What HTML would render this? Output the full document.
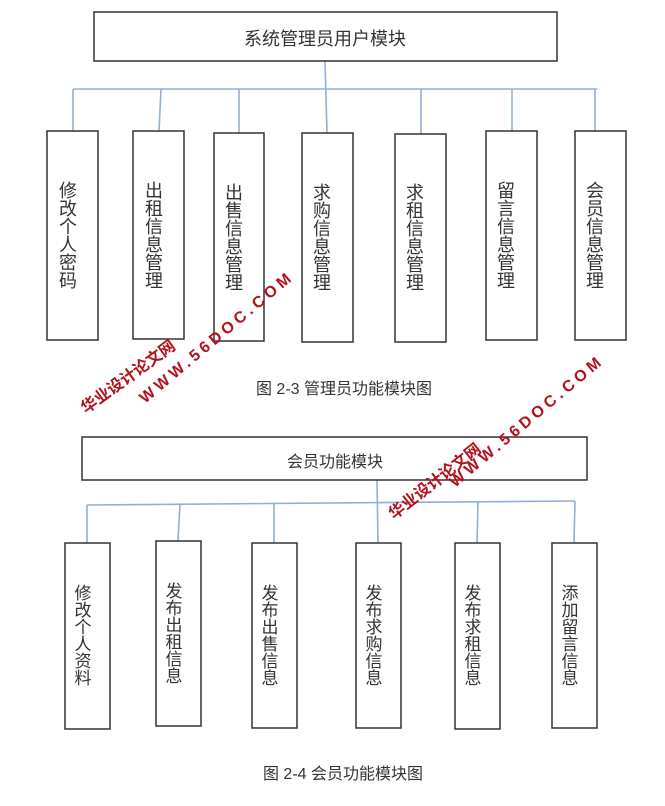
<!DOCTYPE html>
<html><head><meta charset="utf-8"><style>
html,body{margin:0;padding:0;background:#fff;}
svg{display:block;}
.t{font-family:"Liberation Sans","Noto Sans CJK SC",sans-serif;fill:#333;}
.w{font-family:"Liberation Sans","Noto Sans CJK SC",sans-serif;fill:#b3121b;font-weight:bold;}
</style></head><body>
<svg width="665" height="806" viewBox="0 0 665 806" xmlns="http://www.w3.org/2000/svg">
<g fill="none" stroke="#8fb0d0" stroke-width="1.6">
<line x1="73" y1="89" x2="597" y2="89"/>
<line x1="325" y1="61" x2="327" y2="133"/>
<line x1="73" y1="89" x2="73" y2="131"/>
<line x1="161" y1="89" x2="159" y2="131"/>
<line x1="239" y1="89" x2="239" y2="133"/>
<line x1="421" y1="89" x2="421" y2="134"/>
<line x1="512" y1="89" x2="512" y2="131"/>
<line x1="595" y1="89" x2="595" y2="131"/>
<line x1="87" y1="505" x2="575" y2="501"/>
<line x1="377" y1="480" x2="378" y2="543"/>
<line x1="87" y1="505" x2="87" y2="543"/>
<line x1="180" y1="504" x2="178" y2="541"/>
<line x1="274" y1="504" x2="274" y2="543"/>
<line x1="478" y1="502" x2="477" y2="543"/>
<line x1="575" y1="501" x2="574" y2="543"/>
</g>
<g fill="#fff" stroke="#333" stroke-width="1.5">
<rect x="94" y="12" width="463" height="49"/>
<rect x="47" y="131" width="51" height="209"/>
<rect x="133" y="131" width="51" height="208"/>
<rect x="214" y="133" width="50" height="208"/>
<rect x="302" y="133" width="51" height="209"/>
<rect x="395" y="134" width="51" height="208"/>
<rect x="486" y="131" width="51" height="209"/>
<rect x="575" y="131" width="51" height="209"/>
<rect x="82" y="437" width="505" height="43"/>
<rect x="65" y="543" width="45" height="186"/>
<rect x="156" y="541" width="45" height="185"/>
<rect x="252" y="543" width="45" height="185"/>
<rect x="356" y="543" width="45" height="185"/>
<rect x="455" y="543" width="45" height="186"/>
<rect x="552" y="543" width="45" height="185"/>
</g>
<text class="t" x="325" y="45" font-size="18" text-anchor="middle">系统管理员用户模块</text>
<text class="t" x="335" y="467" font-size="16" text-anchor="middle">会员功能模块</text>
<g class="t" font-size="18" text-anchor="middle">
<text x="68" y="197">修</text><text x="68" y="215">改</text><text x="68" y="233">个</text><text x="68" y="251">人</text><text x="68" y="269">密</text><text x="68" y="287">码</text>
<text x="154" y="197">出</text><text x="154" y="215">租</text><text x="154" y="233">信</text><text x="154" y="251">息</text><text x="154" y="269">管</text><text x="154" y="287">理</text>
<text x="234" y="199">出</text><text x="234" y="217">售</text><text x="234" y="235">信</text><text x="234" y="253">息</text><text x="234" y="271">管</text><text x="234" y="289">理</text>
<text x="322" y="199">求</text><text x="322" y="217">购</text><text x="322" y="235">信</text><text x="322" y="253">息</text><text x="322" y="271">管</text><text x="322" y="289">理</text>
<text x="415" y="199">求</text><text x="415" y="217">租</text><text x="415" y="235">信</text><text x="415" y="253">息</text><text x="415" y="271">管</text><text x="415" y="289">理</text>
<text x="506" y="197">留</text><text x="506" y="215">言</text><text x="506" y="233">信</text><text x="506" y="251">息</text><text x="506" y="269">管</text><text x="506" y="287">理</text>
<text x="595" y="197">会</text><text x="595" y="215">员</text><text x="595" y="233">信</text><text x="595" y="251">息</text><text x="595" y="269">管</text><text x="595" y="287">理</text>
</g>
<g class="t" font-size="17" text-anchor="middle">
<text x="83" y="599">修</text><text x="83" y="616">改</text><text x="83" y="633">个</text><text x="83" y="650">人</text><text x="83" y="667">资</text><text x="83" y="684">料</text>
<text x="174" y="597">发</text><text x="174" y="614">布</text><text x="174" y="631">出</text><text x="174" y="648">租</text><text x="174" y="665">信</text><text x="174" y="682">息</text>
<text x="270" y="599">发</text><text x="270" y="616">布</text><text x="270" y="633">出</text><text x="270" y="650">售</text><text x="270" y="667">信</text><text x="270" y="684">息</text>
<text x="374" y="599">发</text><text x="374" y="616">布</text><text x="374" y="633">求</text><text x="374" y="650">购</text><text x="374" y="667">信</text><text x="374" y="684">息</text>
<text x="473" y="599">发</text><text x="473" y="616">布</text><text x="473" y="633">求</text><text x="473" y="650">租</text><text x="473" y="667">信</text><text x="473" y="684">息</text>
<text x="570" y="599">添</text><text x="570" y="616">加</text><text x="570" y="633">留</text><text x="570" y="650">言</text><text x="570" y="667">信</text><text x="570" y="684">息</text>
</g>
<text class="t" x="344" y="394" font-size="16" text-anchor="middle">图 2-3 管理员功能模块图</text>
<text class="t" x="343" y="779" font-size="16" text-anchor="middle">图 2-4 会员功能模块图</text>
<g class="w">
<text transform="translate(86,414) rotate(-36)" font-size="16">华业设计论文网</text>
<text transform="translate(145,404) rotate(-40)" font-size="16" letter-spacing="4">WWW.56DOC.COM</text>
<text transform="translate(394,520) rotate(-38)" font-size="16">华业设计论文网</text>
<text transform="translate(455,488) rotate(-40)" font-size="16" letter-spacing="4">WWW.56DOC.COM</text>
</g>
</svg>
</body></html>
